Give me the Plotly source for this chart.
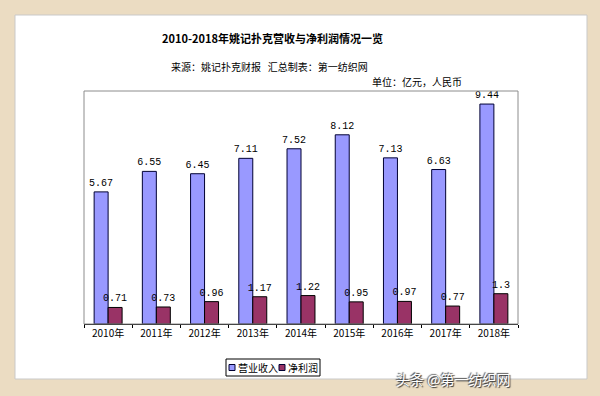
import plotly.graph_objects as go

years = ["2010年", "2011年", "2012年", "2013年", "2014年", "2015年", "2016年", "2017年", "2018年"]
revenue = [5.67, 6.55, 6.45, 7.11, 7.52, 8.12, 7.13, 6.63, 9.44]
profit = [0.71, 0.73, 0.96, 1.17, 1.22, 0.95, 0.97, 0.77, 1.3]
series_names = ["营业收入", "净利润"]
series_colors = ["#9999FF", "#993366"]

W, H = 600, 396
L, R, T, B = 84, 518, 91, 324


def px(x):
    return (x - L) / (R - L)


def py(y):
    return (B - y) / (B - T)


fig = go.Figure()
fig.add_trace(go.Bar(
    x=years, y=revenue, name=series_names[0],
    marker=dict(color=series_colors[0], line=dict(color="#000033", width=1)),
    text=[f"{v:g}" for v in revenue], textposition="outside",
    textfont=dict(family="Liberation Mono", size=10, color="black"),
    constraintext="none", cliponaxis=False,
))
fig.add_trace(go.Bar(
    x=years, y=profit, name=series_names[1],
    marker=dict(color=series_colors[1], line=dict(color="#000000", width=1)),
    text=[f"{v:g}" for v in profit], textposition="outside",
    textfont=dict(family="Liberation Mono", size=10, color="black"),
    constraintext="none", cliponaxis=False,
))

shapes = [
    # white inner panel
    dict(type="rect", xref="paper", yref="paper", layer="below",
         x0=px(15), x1=px(587), y0=py(379), y1=py(15),
         fillcolor="white", line=dict(color="#C9C9C9", width=1)),
    # plot frame
    dict(type="rect", xref="paper", yref="paper", layer="above",
         x0=0, x1=1, y0=0, y1=1,
         line=dict(color="#8C8C8C", width=1)),
    # legend box
    dict(type="rect", xref="paper", yref="paper", layer="above",
         x0=px(226), x1=px(320), y0=py(376), y1=py(359),
         fillcolor="white", line=dict(color="black", width=1)),
]

# legend swatches
leg_sw_x = [229, 279]
leg_txt_x = [236, 286]
for i in range(2):
    shapes.append(dict(type="rect", xref="paper", yref="paper", layer="above",
                       x0=px(leg_sw_x[i]), x1=px(leg_sw_x[i] + 6),
                       y0=py(370.5), y1=py(364.5),
                       fillcolor=series_colors[i], line=dict(color="#000033", width=1)))

annotations = [
    dict(text="<b>2010-2018年姚记扑克营收与净利润情况一览</b>", xref="paper", yref="paper",
         x=px(272), y=py(38), showarrow=False, xanchor="center", yanchor="middle",
         font=dict(family="Noto Sans CJK SC", size=11, color="black")),
    dict(text="来源：姚记扑克财报   汇总制表：第一纺织网", xref="paper", yref="paper",
         x=px(269), y=py(66), showarrow=False, xanchor="center", yanchor="middle",
         font=dict(family="Noto Sans CJK SC", size=10, color="black")),
    dict(text="单位：亿元，人民币", xref="paper", yref="paper",
         x=px(464), y=py(81), showarrow=False, xanchor="right", yanchor="middle",
         font=dict(family="Noto Sans CJK SC", size=10, color="black")),
    dict(text="头条 @第一纺织网", xref="paper", yref="paper",
         x=px(512), y=py(379), showarrow=False, xanchor="right", yanchor="middle",
         font=dict(family="Noto Sans CJK SC", size=14, color="white",
                   shadow="1px 1px 1px #333, -1px -1px 1px #555")),
]
for i in range(2):
    annotations.append(dict(text=series_names[i], xref="paper", yref="paper",
                            x=px(leg_txt_x[i]), y=py(367.5), showarrow=False,
                            xanchor="left", yanchor="middle",
                            font=dict(family="Noto Sans CJK SC", size=10, color="black")))

fig.update_layout(
    width=W, height=H,
    margin=dict(l=L, r=W - R, t=T, b=H - B, pad=0, autoexpand=False),
    paper_bgcolor="#EBDCC2",
    plot_bgcolor="white",
    barmode="group", bargap=0.42, bargroupgap=0,
    showlegend=False,
    xaxis=dict(type="category", showline=True, linecolor="black", linewidth=1,
               ticks="outside", ticklen=3, tickcolor="black", tickson="boundaries",
               tickfont=dict(family="Noto Sans CJK SC", size=10, color="black"),
               showgrid=False, zeroline=False),
    yaxis=dict(range=[0, 10], showticklabels=False, showgrid=False, zeroline=False,
               showline=False, ticks=""),
    shapes=shapes,
    annotations=annotations,
)

fig.write_html("out.html",
               config={"displayModeBar": False},
               post_script="document.body.style.margin='0';document.body.style.padding='0';document.body.style.overflow='hidden';")
